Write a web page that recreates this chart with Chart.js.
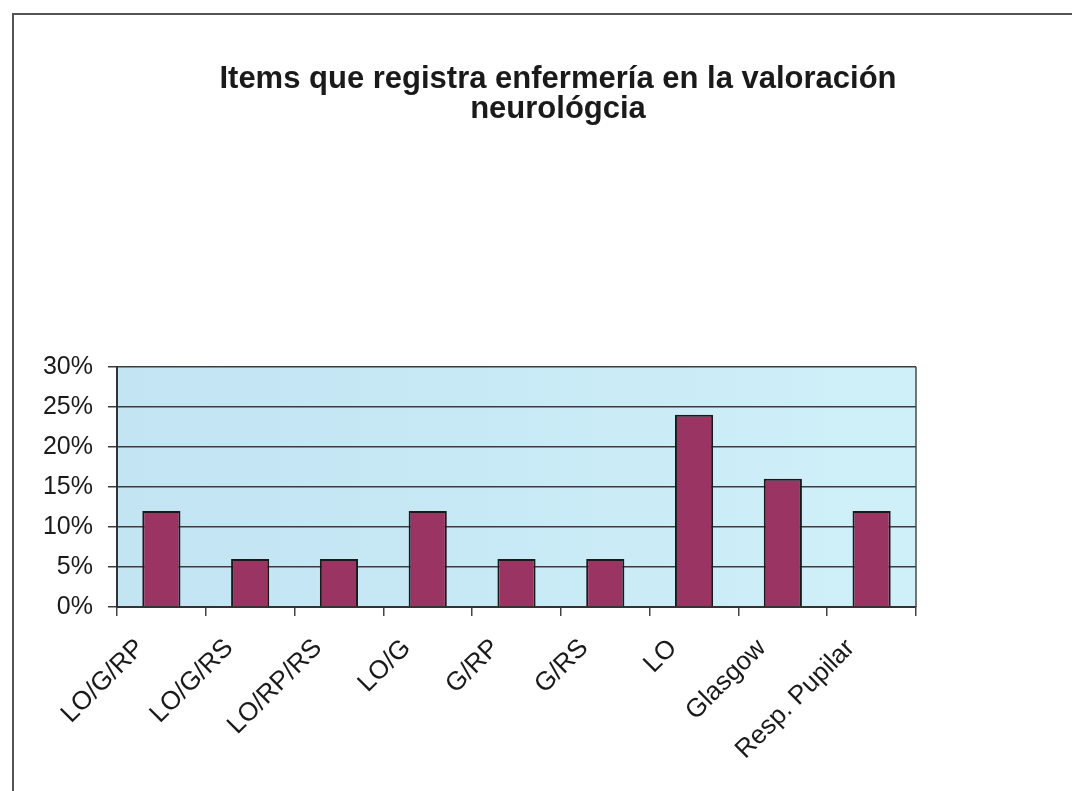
<!DOCTYPE html>
<html>
<head>
<meta charset="utf-8">
<script src="https://cdn.jsdelivr.net/npm/chart.js@4/dist/chart.umd.min.js"></script>
<style>
    html, body { margin: 0; padding: 0; background: #fff; }
    #wrap { position: relative; width: 1072px; height: 791px; overflow: hidden; }
    #frame {
        position: absolute; left: 12px; top: 13px; width: 1100px; height: 800px;
        border-left: 2px solid #555; border-top: 2px solid #555;
    }
    canvas { position: absolute; left: 0; top: 0; }
</style>
</head>
<body>
<div id="wrap">
    <div id="frame"></div>
    <canvas id="chart" width="1072" height="791"></canvas>
</div>
<script>
const categories = ["LO/G/RP", "LO/G/RS", "LO/RP/RS", "LO/G", "G/RP", "G/RS", "LO", "Glasgow", "Resp. Pupilar"];
const percentages = [12, 6, 6, 12, 6, 6, 24, 16, 12];
const titleLines = ["Items que registra enfermería en la valoración", "neurológcia"];

// fondo degradado azul claro y borde del área de trazado
const plotBackground = {
    id: "plotBackground",
    beforeDraw(chart) {
        const { ctx, chartArea: a } = chart;
        const g = ctx.createLinearGradient(a.left, 0, a.right, 0);
        g.addColorStop(0, "#c2e4f3");
        g.addColorStop(0.5, "#c8eaf6");
        g.addColorStop(1, "#d0f0f9");
        ctx.save();
        ctx.fillStyle = g;
        ctx.fillRect(a.left, a.top, a.right - a.left, a.bottom - a.top);
        ctx.restore();
    },
    afterDatasetsDraw(chart) {
        const { ctx, chartArea: a } = chart;
        ctx.save();
        ctx.strokeStyle = "#4a4a4a";
        ctx.lineWidth = 1.5;
        ctx.beginPath();
        ctx.moveTo(a.right, a.top);
        ctx.lineTo(a.right, a.bottom);
        ctx.stroke();
        ctx.restore();
    }
};

new Chart(document.getElementById("chart").getContext("2d"), {
    type: "bar",
    data: {
        labels: categories,
        datasets: [{
            data: percentages,
            backgroundColor: "#9a3462",
            borderColor: "#1a1a1a",
            borderWidth: 2,
            categoryPercentage: 1,
            barPercentage: 0.43
        }]
    },
    options: {
        responsive: false,
        animation: false,
        layout: { padding: { left: 44, right: 0, top: 0, bottom: 0 } },
        plugins: {
            legend: { display: false },
            tooltip: { enabled: false },
            title: {
                display: true,
                text: titleLines,
                color: "#1a1a1a",
                font: { family: "'Liberation Sans', Arial, sans-serif", size: 31, weight: "bold", lineHeight: 0.98 },
                padding: { top: 64, bottom: 242 }
            }
        },
        scales: {
            x: {
                afterFit: s => { s.height = 184; },
                border: { display: true, color: "#333", width: 2 },
                grid: { display: true, offset: true, drawOnChartArea: false, tickLength: 9, color: "#444", lineWidth: 1.5 },
                ticks: {
                    minRotation: 45,
                    maxRotation: 45,
                    autoSkip: false,
                    labelOffset: -21,
                    padding: 17,
                    color: "#1a1a1a",
                    font: { family: "'Liberation Sans', Arial, sans-serif", size: 26 }
                }
            },
            y: {
                min: 0,
                max: 30,
                afterFit: s => { s.width = 73; },
                border: { display: true, color: "#333", width: 2 },
                grid: { color: "#3c3c3c", lineWidth: 1.5, tickLength: 9 },
                ticks: {
                    stepSize: 5,
                    padding: 15,
                    color: "#1a1a1a",
                    font: { family: "'Liberation Sans', Arial, sans-serif", size: 25 },
                    callback: v => v + "%"
                }
            },
            spacer: {
                type: "linear",
                position: "right",
                display: true,
                afterFit: s => { s.width = 156; },
                border: { display: false },
                grid: { display: false },
                ticks: { display: false }
            }
        }
    },
    plugins: [plotBackground]
});
</script>
</body>
</html>
